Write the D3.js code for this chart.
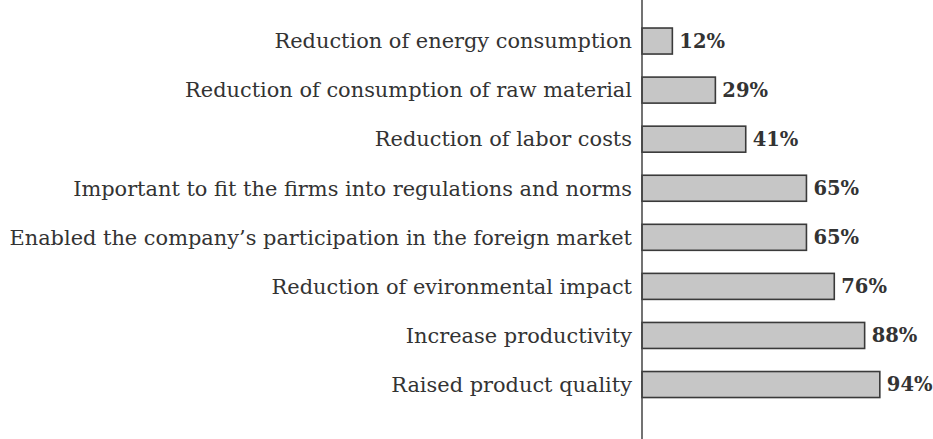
<!DOCTYPE html>
<html>
<head>
<meta charset="utf-8">
<script src="https://cdn.jsdelivr.net/npm/d3@7"></script>
<style>
  body { margin: 0; background: #fff; }
  svg { display: block; }
</style>
</head>
<body>
<script>
const categories = [
  'Reduction of energy consumption',
  'Reduction of consumption of raw material',
  'Reduction of labor costs',
  'Important to fit the firms into regulations and norms',
  'Enabled the company\u2019s participation in the foreign market',
  'Reduction of evironmental impact',
  'Increase productivity',
  'Raised product quality'
];
const values = [12, 29, 41, 65, 65, 76, 88, 94];
const valueLabels = ['12%', '29%', '41%', '65%', '65%', '76%', '88%', '94%'];

const width = 933, height = 439;
const margin = {left: 642, top: 16.5};

const svg = d3.select(document.body).append('svg')
  .attr('width', width).attr('height', height);

// x: percentage -> pixels from the axis
const x = d3.scaleLinear().domain([0, 100]).range([0, 253]);
const y = d3.scaleBand()
  .domain(categories)
  .range([0, 8 * 49.07])
  .paddingInner(0.47)
  .paddingOuter(0.235);

const g = svg.append('g')
  .attr('transform', `translate(${margin.left}, ${margin.top})`);

g.selectAll('rect.bar')
  .data(values)
  .join('rect')
  .attr('class', 'bar')
  .attr('x', 0)
  .attr('y', (d, i) => y(categories[i]))
  .attr('width', d => x(d))
  .attr('height', y.bandwidth())
  .attr('fill', '#c6c6c6')
  .attr('stroke', '#3a3a3a')
  .attr('stroke-width', 1.6);

// category labels
const font = '"DejaVu Serif", serif';
g.selectAll('text.cat')
  .data(categories)
  .join('text')
  .attr('class', 'cat')
  .attr('x', -10)
  .attr('y', d => y(d) + y.bandwidth() / 2)
  .attr('dy', '0.35em')
  .attr('text-anchor', 'end')
  .attr('font-family', font)
  .attr('font-size', 20.9)
  .attr('fill', '#333')
  .text(d => d);

// value labels
g.selectAll('text.val')
  .data(values)
  .join('text')
  .attr('class', 'val')
  .attr('x', d => x(d) + 7)
  .attr('y', (d, i) => y(categories[i]) + y.bandwidth() / 2)
  .attr('dy', '0.35em')
  .attr('font-family', font)
  .attr('font-weight', 'bold')
  .attr('font-size', 19.5)
  .attr('fill', '#333')
  .text((d, i) => valueLabels[i]);

// vertical axis line
svg.append('line')
  .attr('x1', margin.left).attr('x2', margin.left)
  .attr('y1', 0).attr('y2', height)
  .attr('stroke', '#444')
  .attr('stroke-width', 1.5);
</script>
</body>
</html>
